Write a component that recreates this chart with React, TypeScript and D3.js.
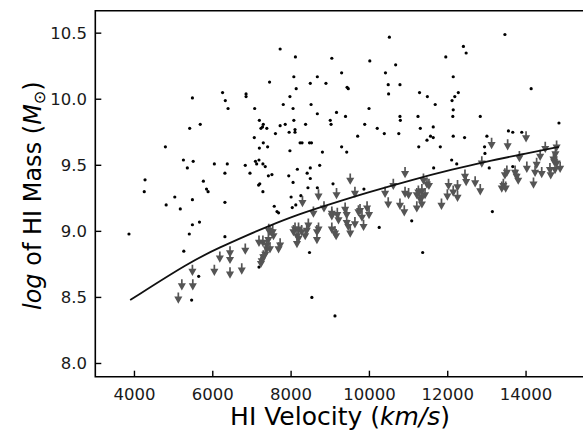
import React from "react";
import * as d3 from "d3";

// Detections (black dots): HI velocity (km/s) and log HI mass
const detVel = [3860,4270,4250,4790,4810,5030,5170,5250,5260,5350,5400,5410,5460,5480,5480,5480,5500,5640,5660,5680,5760,5840,5880,6040,6250,6310,6310,6310,6320,6370,6390,6830,6850,6850,6950,7060,7070,7090,7120,7180,7170,7200,7180,7190,7190,7230,7270,7280,7280,7290,7290,7340,7380,7400,7420,7450,7510,7570,7600,7640,7680,7720,7720,7800,7850,7940,7950,7970,7970,8000,8030,8050,8050,8070,8070,8100,8100,8110,8120,8130,8160,8230,8280,8250,8370,8410,8430,8470,8520,8470,8490,8490,8490,8510,8530,8670,8670,8670,8730,8800,8890,9000,9020,9040,9070,9120,9160,9290,9290,9390,9420,9430,9460,9700,9860,9880,9990,10010,10200,10250,10380,10410,10480,10490,10510,10670,10750,10780,10780,10790,11080,11240,11260,11280,11300,11360,11470,11480,11560,11630,11630,11640,11680,11810,11950,12100,12110,12130,12140,12140,12140,12180,12230,12270,12400,12430,12470,12830,12940,12950,13000,13060,13140,13460,13550,13660,13890,13660,14130,14840];
const detMass = [8.98,9.39,9.30,9.64,9.20,9.26,9.17,9.54,8.85,9.48,8.98,9.78,8.48,10.01,9.24,9.05,9.53,8.66,9.07,9.81,9.38,9.32,9.30,9.51,10.05,9.44,9.22,8.96,9.99,9.51,9.93,9.50,10.04,10.02,9.44,9.71,9.93,9.53,9.51,9.54,9.35,9.36,8.73,9.84,9.63,9.78,9.79,9.51,9.30,9.81,9.67,9.49,9.78,9.64,9.42,10.13,9.43,9.19,9.74,9.15,9.14,10.38,9.80,9.96,9.81,9.42,9.75,10.02,9.61,9.26,9.18,9.93,9.37,10.17,9.84,9.77,9.75,10.32,9.20,10.08,9.47,9.67,9.67,9.27,9.81,9.44,9.33,9.67,9.67,8.84,10.12,9.48,9.40,9.96,8.50,10.17,9.89,9.33,9.50,9.60,10.12,9.84,9.81,10.31,9.36,8.36,9.90,10.20,9.64,9.87,9.60,10.09,10.08,9.72,9.32,9.81,9.93,10.29,9.78,9.03,9.74,10.20,10.11,10.04,10.47,10.26,9.74,10.11,9.87,9.84,9.08,9.87,9.64,10.05,9.78,8.84,9.69,10.02,9.72,9.79,9.71,9.48,9.96,9.64,10.32,9.54,9.99,9.87,9.92,10.17,9.72,10.02,9.51,10.05,10.40,9.71,10.35,9.87,9.64,9.59,9.72,9.48,9.15,10.49,9.76,9.75,9.75,9.49,10.08,9.82];

// Upper limits (grey downward arrows)
const limVel = [5120,5210,5490,5480,6040,6180,6440,6440,6440,6740,6830,7180,7280,7380,7340,7290,7250,7230,7430,7460,7550,7420,7380,7460,7720,7680,7530,8060,8100,8150,8190,8150,8270,8360,8400,8440,8190,8660,8660,8700,8700,8290,8570,8840,9040,9040,9120,9160,9180,9210,9150,9380,9420,9420,9460,9510,9630,9630,9720,9760,9810,9850,9940,9990,9510,10400,10610,10480,10780,10890,10910,11000,10910,11210,11250,11290,11340,11210,11380,11470,11520,11340,11420,11340,11840,11990,12020,12140,12250,12250,12470,12700,12830,12440,12870,13120,13420,13380,13480,13460,13510,13530,13720,13760,13800,13830,14000,14020,14190,14230,14270,14360,14400,14490,14610,14630,14700,14720,14750,14780,14780,14740,14870,9040];
const limMass = [8.50,8.60,8.60,8.71,8.71,8.81,8.85,8.80,8.69,8.72,8.87,8.93,8.93,8.88,8.84,8.82,8.79,8.77,9.02,9.01,8.98,8.95,8.91,8.88,8.91,8.88,9.01,9.01,9.03,8.98,8.96,8.92,9.01,8.98,9.02,9.06,9.03,9.01,8.95,9.03,9.28,9.23,9.15,9.19,9.15,9.03,9.00,9.29,9.14,9.10,8.98,9.18,9.14,9.08,9.05,9.00,9.30,9.07,9.16,9.17,9.12,9.05,9.19,9.14,9.40,9.30,9.36,9.22,9.21,9.16,9.30,9.29,9.45,9.19,9.31,9.26,9.22,9.29,9.40,9.37,9.36,9.32,9.29,9.27,9.21,9.28,9.36,9.31,9.35,9.27,9.39,9.38,9.32,9.43,9.53,9.67,9.36,9.34,9.34,9.44,9.46,9.66,9.46,9.43,9.40,9.57,9.72,9.49,9.37,9.46,9.52,9.58,9.45,9.64,9.48,9.44,9.56,9.54,9.60,9.65,9.53,9.48,9.49,9.13];

// Detection-limit curve
const curveVel = [3890,5420,6190,6950,7340,8190,9040,9900,11080,12140,13000,13850,14840];
const curveMass = [8.48,8.77,8.88,8.98,9.03,9.13,9.21,9.29,9.39,9.47,9.53,9.58,9.64];

const xTicks = [4000,6000,8000,10000,12000,14000];
const yTicks = [8.0,8.5,9.0,9.5,10.0,10.5];

const W = 583, H = 431;
const left = 95.3, right = 584.8, top = 10.7, bottom = 376.7;
const FONT = "DejaVu Sans, sans-serif";

export default function App() {
  const x = d3.scaleLinear().domain([3000, 15500]).range([left, right]);
  const y = d3.scaleLinear().domain([7.9, 10.67]).range([bottom, top]);
  const line = d3.line<number>()
    .x((_, i) => x(curveVel[i]))
    .y((_, i) => y(curveMass[i]))
    .curve(d3.curveBasis);
  const arrowPath = "M0,-5 L0,1 M-2.6,0 L2.6,0 L0,4.6 Z";
  return (
    <svg width={W} height={H} style={{ position: "absolute", left: 0, top: 0, background: "#fff" }} fontFamily={FONT}>
      <rect x={0} y={0} width={W} height={H} fill="#fff" />
      {detVel.map((v, i) => (
        <circle key={"d" + i} cx={x(v)} cy={y(detMass[i])} r={1.6} fill="#000" />
      ))}
      {limVel.map((v, i) => (
        <path key={"l" + i} d={arrowPath} transform={`translate(${x(v)},${y(limMass[i])})`}
          stroke="#555" strokeWidth={1.7} fill="#555" strokeLinejoin="miter" />
      ))}
      <path d={line(curveVel) || ""} fill="none" stroke="#111" strokeWidth={1.8} />
      <path d={`M${left},${top} L${right},${top} L${right},${bottom} L${left},${bottom} Z`} fill="none" stroke="#000" strokeWidth={1.6} />
      {xTicks.map((t) => (
        <g key={"xt" + t}>
          <line x1={x(t)} x2={x(t)} y1={bottom} y2={bottom - 6} stroke="#000" strokeWidth={1.4} />
          <text x={x(t)} y={399.5} textAnchor="middle" fontSize={16.5} fill="#1a1a1a">{t}</text>
        </g>
      ))}
      {yTicks.map((t) => (
        <g key={"yt" + t}>
          <line x1={left} x2={left + 6} y1={y(t)} y2={y(t)} stroke="#000" strokeWidth={1.4} />
          <text x={87} y={y(t)} dy="0.36em" textAnchor="end" fontSize={16.5} fill="#1a1a1a">{t.toFixed(1)}</text>
        </g>
      ))}
      <text x={(left + right) / 2} y={424.5} textAnchor="middle" fontSize={25} fill="#000">
        HI Velocity (<tspan fontStyle="italic">km/s</tspan>)
      </text>
      <text transform={`translate(41,${(top + bottom) / 2 + 2}) rotate(-90)`} textAnchor="middle" fontSize={24} fill="#000">
        <tspan fontStyle="italic">log</tspan> of HI Mass (<tspan fontStyle="italic">M</tspan><tspan dy={4} fontSize={16}>⊙</tspan><tspan dy={-4}>)</tspan>
      </text>
    </svg>
  );
}
